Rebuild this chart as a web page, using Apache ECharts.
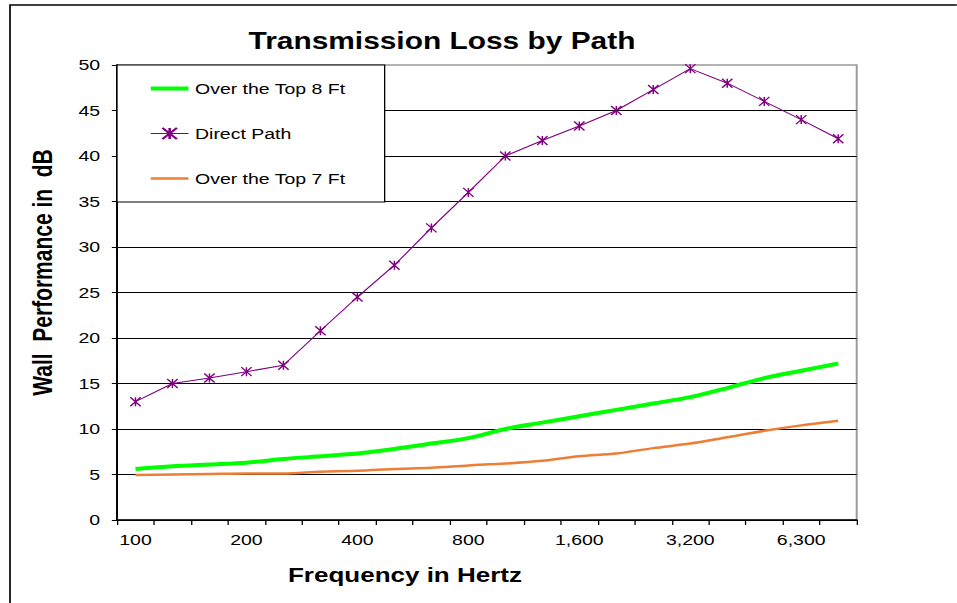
<!DOCTYPE html>
<html>
<head>
<meta charset="utf-8">
<script src="https://cdn.jsdelivr.net/npm/echarts@6/dist/echarts.min.js"></script>
<style>
	html, body { margin: 0; padding: 0; background: #fff; overflow: hidden; }
	/* the original picture is stretched sideways, so draw narrow and widen it */
	#chart { width: 736px; height: 603px; transform: scaleX(1.3); transform-origin: 0 0; }
</style>
</head>
<body>
<div id="chart"></div>
<script>
	// one-third octave bands
	var freqs = ['100', '125', '160', '200', '250', '315', '400', '500', '630', '800',
		'1,000', '1,250', '1,600', '2,000', '2,500', '3,200', '4,000', '5,000', '6,300', '8,000'];
	var over8 = [5.6, 5.9, 6.1, 6.3, 6.7, 7.0, 7.3, 7.8, 8.4, 9.0,
		10.0, 10.7, 11.4, 12.1, 12.8, 13.5, 14.5, 15.6, 16.4, 17.2];
	var direct = [13.0, 15.0, 15.6, 16.3, 17.0, 20.8, 24.5, 28.0, 32.1, 36.0,
		40.0, 41.7, 43.3, 45.0, 47.3, 49.6, 48.0, 46.0, 44.0, 41.9];
	var over7 = [4.95, 5.0, 5.05, 5.1, 5.1, 5.3, 5.4, 5.6, 5.75, 6.0,
		6.2, 6.5, 7.0, 7.3, 7.9, 8.4, 9.1, 9.8, 10.4, 10.9];

	var font = 'Arial, "Liberation Sans", sans-serif';
	// asterisk marker
	var star = 'path://M0,0L10,10M10,0L0,10M5,0L5,10';

	var chart = echarts.init(document.getElementById('chart'), null, { renderer: 'svg' });
	var option = {
		animation: false,
		backgroundColor: '#fff',
		textStyle: { fontFamily: font },
		graphic: [{
			type: 'rect',
			shape: { x: 7.7, y: 5, width: 800, height: 640 },
			style: { fill: 'none', stroke: '#000', lineWidth: 1.3 },
			silent: true
		}],
		title: {
			text: 'Transmission Loss by Path',
			left: 335,
			textAlign: 'center',
			top: 25,
			textStyle: { fontSize: 23, fontWeight: 'bold', color: '#000', fontFamily: font }
		},
		legend: {
			orient: 'vertical',
			left: 90,
			top: 65,
			padding: [16, 30, 16, 24],
			itemGap: 30,
			itemWidth: 29,
			itemHeight: 14,
			backgroundColor: '#fff',
			borderColor: '#000',
			borderWidth: 1,
			textStyle: { fontSize: 15, color: '#000', fontFamily: font },
			data: [
				{ name: 'Over the Top 8 Ft', itemStyle: { opacity: 0 }, lineStyle: { width: 4 } },
				{ name: 'Direct Path', lineStyle: { width: 1 } },
				{ name: 'Over the Top 7 Ft', itemStyle: { opacity: 0 }, lineStyle: { width: 2.5 } }
			]
		},
		grid: {
			left: 90,
			right: 77,
			top: 65,
			bottom: 83,
			show: true,
			borderColor: '#999',
			borderWidth: 1.5
		},
		xAxis: {
			type: 'category',
			data: freqs,
			boundaryGap: true,
			name: 'Frequency in Hertz',
			nameLocation: 'middle',
			nameGap: 45,
			nameTextStyle: { fontSize: 20, fontWeight: 'bold', color: '#000', fontFamily: font, padding: [0, 126, 0, 0] },
			axisLine: { lineStyle: { color: '#000', width: 1.5 } },
			axisTick: { show: true, length: 5, interval: 0, lineStyle: { color: '#000' } },
			axisLabel: { interval: 2, fontSize: 15, color: '#000', margin: 12, fontFamily: font }
		},
		yAxis: {
			type: 'value',
			min: 0,
			max: 50,
			interval: 5,
			name: 'Wall  Performance in  dB',
			nameLocation: 'middle',
			nameGap: 47,
			nameTextStyle: { fontSize: 21, fontWeight: 'bold', color: '#000', fontFamily: font, padding: [0, 0, 0, 40] },
			axisLine: { show: true, lineStyle: { color: '#000', width: 1.5 } },
			axisTick: { show: true, length: 4, lineStyle: { color: '#000' } },
			axisLabel: { fontSize: 15, color: '#000', margin: 13, fontFamily: font },
			splitLine: { show: true, showMaxLine: false, lineStyle: { color: '#000', width: 1 } }
		},
		series: [{
			name: 'Over the Top 8 Ft',
			type: 'line',
			data: over8,
			smooth: 0.3,
			symbol: 'none',
			lineStyle: { color: '#00ff00', width: 4 },
			itemStyle: { color: '#00ff00' },
			z: 3
		}, {
			name: 'Direct Path',
			type: 'line',
			data: direct,
			symbol: star,
			symbolSize: [8, 9],
			lineStyle: { color: '#800080', width: 1 },
			itemStyle: { color: '#800080', borderColor: '#800080', borderWidth: 1.2 },
			z: 4
		}, {
			name: 'Over the Top 7 Ft',
			type: 'line',
			data: over7,
			smooth: 0.3,
			symbol: 'none',
			lineStyle: { color: '#ee7d35', width: 2.5 },
			itemStyle: { color: '#ee7d35' },
			z: 3
		}]
	};
	chart.setOption(option);
</script>
</body>
</html>
